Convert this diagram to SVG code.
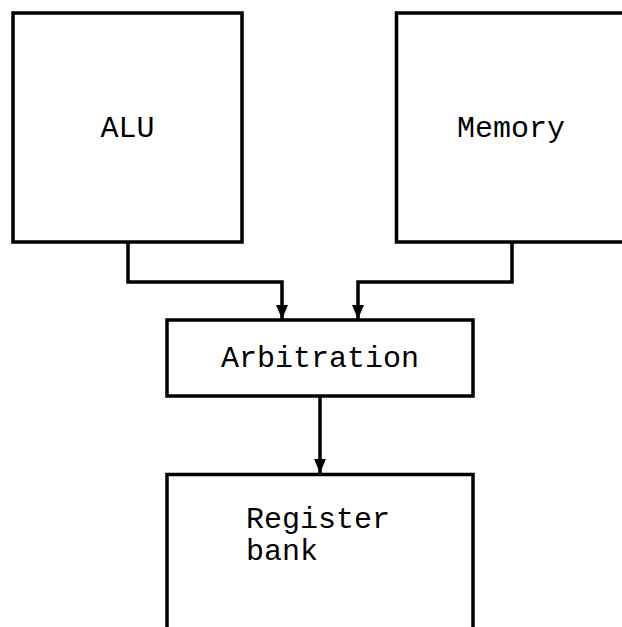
<svg xmlns="http://www.w3.org/2000/svg" width="622" height="627" viewBox="0 0 622 627">
  <style>
    .box { fill: #ffffff; stroke: #000000; stroke-width: 3.5; }
    .label { font-family: "Liberation Mono", "Courier New", monospace; font-size: 30px; fill: #000000; }
    .wire { fill: none; stroke: #000000; stroke-width: 3.5; }
  </style>
  <defs>
    <!-- solid triangular arrowhead; tip sits at the end of the path -->
    <marker id="head" markerWidth="14" markerHeight="12" refX="14" refY="6" orient="auto" markerUnits="userSpaceOnUse" viewBox="0 0 14 12">
      <path d="M0,0 L14,6 L0,12 Z" fill="#000000"/>
    </marker>
  </defs>

  <g id="alu">
    <rect class="box" x="13" y="13" width="229" height="229"/>
    <text class="label" x="127.5" y="137" text-anchor="middle">ALU</text>
  </g>

  <g id="memory">
    <rect class="box" x="396.5" y="13" width="229" height="229"/>
    <text class="label" x="511" y="137" text-anchor="middle">Memory</text>
  </g>

  <g id="arbitration">
    <rect class="box" x="167" y="320" width="306" height="76"/>
    <text class="label" x="320" y="367" text-anchor="middle">Arbitration</text>
  </g>

  <g id="register-bank">
    <rect class="box" x="167" y="474.5" width="306" height="170"/>
    <text class="label" x="246" y="528">Register</text>
    <text class="label" x="246" y="560">bank</text>
  </g>

  <g id="connectors">
    <path class="wire" d="M128,242 V282 H282 V319" marker-end="url(#head)"/>
    <path class="wire" d="M512,242 V282 H358 V319" marker-end="url(#head)"/>
    <path class="wire" d="M320,396 V473" marker-end="url(#head)"/>
  </g>
</svg>
